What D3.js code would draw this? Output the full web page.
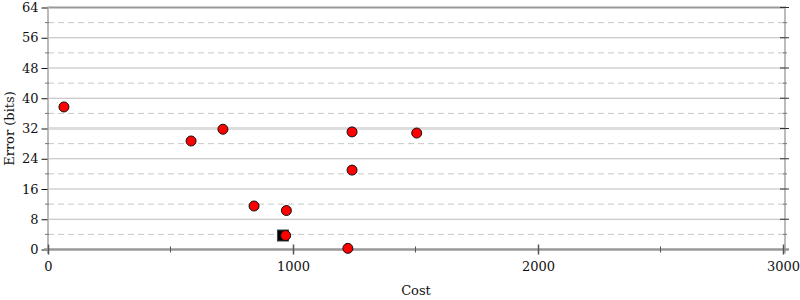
<!DOCTYPE html>
<html>
<head>
<meta charset="utf-8">
<script src="https://cdn.jsdelivr.net/npm/d3@7"></script>
<style>
  body { margin: 0; background: #fff; }
  svg text { font-family: "DejaVu Serif", serif; font-size: 13px; fill: #111; }
</style>
</head>
<body>
<svg width="800" height="300"></svg>
<script>
// measured points (cost, error in bits)
const costs = [65, 584, 714, 1241, 1505, 1241, 841, 973, 970, 1224];
const errors = [37.7, 28.7, 31.8, 31.1, 30.8, 21.0, 11.5, 10.3, 3.7, 0.3];
// the single square marker
const bestCost = [961];
const bestError = [3.7];

const xMajor = [0, 1000, 2000, 3000];
const xMinor = [500, 1500, 2500];
const yMajor = [0, 8, 16, 24, 32, 40, 48, 56, 64];
const yMinor = [4, 12, 20, 28, 36, 44, 52, 60];

const svg = d3.select("svg");
const plotL = 48, plotR = 784, plotT = 7.5, plotB = 249.5;

const x = d3.scaleLinear().domain([0, 3000]).range([plotL, plotR - 1]);
const y = d3.scaleLinear().domain([0, 64]).range([plotB, plotT]);

// grid
const grid = svg.append("g");
grid.selectAll(".minor")
  .data(yMinor)
  .enter()
  .append("line")
  .attr("x1", plotL).attr("x2", plotR)
  .attr("y1", d => y(d)).attr("y2", d => y(d))
  .attr("stroke", "#c8c8c8")
  .attr("stroke-dasharray", "6,4");
grid.selectAll(".major")
  .data(yMajor.filter(d => d > 0 && d < 64))
  .enter()
  .append("line")
  .attr("x1", plotL).attr("x2", plotR)
  .attr("y1", d => y(d)).attr("y2", d => y(d))
  .attr("stroke", d => (d === 32 ? "#dddddd" : "#bbbbbb"))
  .attr("stroke-width", d => (d === 32 ? 3 : 1));

// top border
svg.append("line")
  .attr("x1", plotL).attr("x2", plotR + 2)
  .attr("y1", y(64)).attr("y2", y(64))
  .attr("stroke", "#999").attr("stroke-width", 2);

// left axis
svg.append("line")
  .attr("x1", plotL).attr("x2", plotL)
  .attr("y1", y(64) - 1).attr("y2", plotB + 4)
  .attr("stroke", "#bbb").attr("stroke-width", 2);
const yAxis = d3.axisLeft(y).tickValues(yMajor).tickSize(6).tickPadding(3);
const gy = svg.append("g").attr("transform", `translate(${plotL - 0.5},0)`).call(yAxis);
gy.select(".domain").remove();
gy.selectAll(".tick line").attr("stroke", "#111");
gy.selectAll("text").attr("fill", "#111").style("font-family", "DejaVu Serif").style("font-size", "13px");
svg.selectAll(".yminor")
  .data(yMinor)
  .enter()
  .append("line")
  .attr("x1", plotL - 3).attr("x2", plotL + 1)
  .attr("y1", d => y(d)).attr("y2", d => y(d))
  .attr("stroke", "#777");

// right axis
svg.append("line")
  .attr("x1", plotR + 1).attr("x2", plotR + 1)
  .attr("y1", y(64) - 1).attr("y2", plotB + 4)
  .attr("stroke", "#bbb").attr("stroke-width", 2);
svg.selectAll(".rmajor")
  .data(yMajor)
  .enter()
  .append("line")
  .attr("x1", plotR - 4).attr("x2", plotR + 5)
  .attr("y1", d => y(d)).attr("y2", d => y(d))
  .attr("stroke", "#333");
svg.selectAll(".rminor")
  .data(yMinor)
  .enter()
  .append("line")
  .attr("x1", plotR - 1).attr("x2", plotR + 3)
  .attr("y1", d => y(d)).attr("y2", d => y(d))
  .attr("stroke", "#777");

// bottom axis
svg.append("line")
  .attr("x1", plotL - 4).attr("x2", plotR + 5)
  .attr("y1", plotB).attr("y2", plotB)
  .attr("stroke", "#999").attr("stroke-width", 2.5);
const xAxis = d3.axisBottom(x).tickValues(xMajor).tickSize(5).tickPadding(7).tickFormat(d3.format("d"));
const gx = svg.append("g").attr("transform", `translate(0,${plotB})`).call(xAxis);
gx.select(".domain").remove();
gx.selectAll(".tick line").attr("stroke", "#555").attr("stroke-width", 1.5).attr("y1", -5);
gx.selectAll("text").attr("fill", "#111").style("font-family", "DejaVu Serif").style("font-size", "13px");
svg.selectAll(".xminor")
  .data(xMinor)
  .enter()
  .append("line")
  .attr("x1", d => x(d)).attr("x2", d => x(d))
  .attr("y1", plotB - 3).attr("y2", plotB + 3)
  .attr("stroke", "#555");

// axis titles
svg.append("text")
  .attr("x", (plotL + plotR) / 2).attr("y", 295)
  .attr("text-anchor", "middle")
  .text("Cost");
svg.append("text")
  .attr("transform", `translate(14,${(plotT + plotB) / 2}) rotate(-90)`)
  .attr("text-anchor", "middle")
  .text("Error (bits)");

// points
svg.selectAll(".best")
  .data(bestCost.map((c, i) => ({ c, e: bestError[i] })))
  .enter()
  .append("rect")
  .attr("x", d => x(d.c) - 6).attr("y", d => y(d.e) - 5.5)
  .attr("width", 11).attr("height", 11)
  .attr("fill", "#000").attr("stroke", "#444");
svg.selectAll(".pt")
  .data(costs.map((c, i) => ({ c, e: errors[i] })))
  .enter()
  .append("circle")
  .attr("cx", d => x(d.c)).attr("cy", d => y(d.e))
  .attr("r", 5)
  .attr("fill", "#ff0000")
  .attr("stroke", "#111")
  .attr("stroke-width", 1);
</script>
</body>
</html>
